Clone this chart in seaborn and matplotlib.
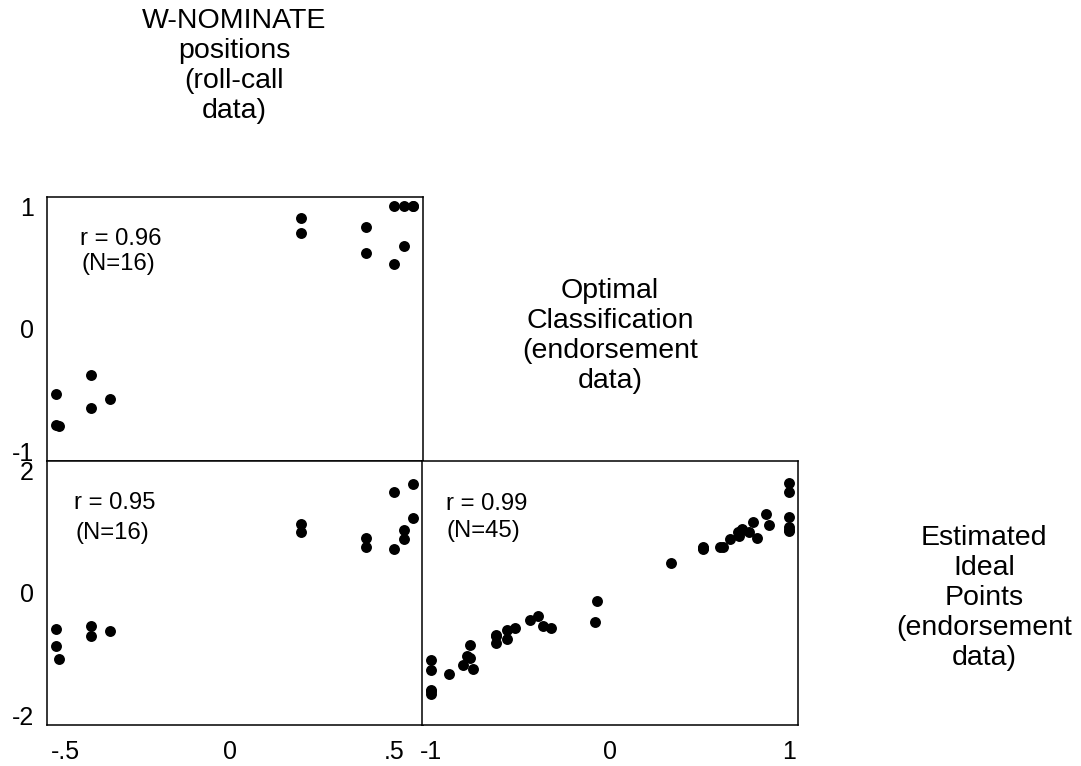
import matplotlib
matplotlib.use("Agg")
import matplotlib.pyplot as plt
import seaborn as sns
import pandas as pd

# Legislators with roll-call positions (N=16)
wnom = [-0.530, -0.530, -0.521, -0.422, -0.422, -0.367, 0.217, 0.217,
        0.414, 0.414, 0.501, 0.501, 0.530, 0.530, 0.559, 0.559]
oc_rc = [-0.529, -0.782, -0.787, -0.375, -0.641, -0.573, 0.901, 0.779,
         0.828, 0.621, 1.000, 0.527, 1.000, 0.676, 1.000, 1.000]
est_rc = [-0.591, -0.863, -1.069, -0.537, -0.700, -0.613, 1.114, 0.989,
          0.886, 0.739, 1.645, 0.717, 1.021, 0.869, 1.770, 1.222]

# All legislators with endorsement data (N=45)
oc_all = [-1.000, -1.000, -1.000, -1.000, -1.000, -0.898,
          -0.823, -0.801, -0.780, -0.782, -0.764,
          -0.637, -0.637, -0.637, -0.574, -0.574, -0.531,
          -0.447, -0.400, -0.372, -0.331,
          -0.074, -0.082, 0.341,
          0.521, 0.521, 0.521, 0.615, 0.633,
          0.670, 0.717, 0.736, 0.736, 0.722, 0.777, 0.800, 0.823, 0.872, 0.889,
          1.000, 1.000, 1.000, 1.000, 1.000, 1.000]
est_all = [-1.096, -1.259, -1.574, -1.639, -1.605, -1.324,
           -1.178, -1.031, -1.055, -0.852, -1.232,
           -0.689, -0.814, -0.700, -0.607, -0.743, -0.580,
           -0.445, -0.380, -0.542, -0.564,
           -0.130, -0.482, 0.489,
           0.739, 0.717, 0.728, 0.745, 0.750,
           0.869, 0.994, 1.040, 1.030, 0.918, 0.994, 1.162, 0.886, 1.277, 1.108,
           1.785, 1.645, 1.238, 1.065, 1.021, 1.005]

labels = ["W-NOMINATE\npositions\n(roll-call\ndata)",
          "Optimal\nClassification\n(endorsement\ndata)",
          "Estimated\nIdeal\nPoints\n(endorsement\ndata)"]
stats = [("r = 0.96", "(N=16)"), ("r = 0.95", "(N=16)"), ("r = 0.99", "(N=45)")]

sns.set_style("white")
plt.rcParams["font.family"] = ["Liberation Sans", "DejaVu Sans"]
plt.rcParams["text.color"] = "black"
plt.rcParams["xtick.color"] = "black"
plt.rcParams["ytick.color"] = "black"

W, H = 1081, 766
fig = plt.figure(figsize=(W / 100, H / 100), dpi=100)


def box(l, t, r, b):
    return [l / W, 1 - b / H, (r - l) / W, (b - t) / H]


ax_top = fig.add_axes(box(46.5, 196.7, 422.7, 460.7))
ax_bl = fig.add_axes(box(46.5, 461.0, 422.7, 725.3))
ax_br = fig.add_axes(box(422.0, 461.0, 797.7, 725.3))

rc = pd.DataFrame({"wnom": wnom, "oc": oc_rc, "est": est_rc})
en = pd.DataFrame({"oc": oc_all, "est": est_all})

dot = dict(color="black", s=62, linewidth=0, legend=False)
sns.scatterplot(data=rc, x="wnom", y="oc", ax=ax_top, **dot)
sns.scatterplot(data=rc, x="wnom", y="est", ax=ax_bl, **dot)
sns.scatterplot(data=en, x="oc", y="est", ax=ax_br, **dot)

wx = (-0.559, 0.5875)
ax_top.set_xlim(*wx)
ax_top.set_ylim(-1.073, 1.076)
ax_bl.set_xlim(*wx)
ax_bl.set_ylim(-2.156, 2.147)
ax_br.set_xlim(-1.05, 1.049)
ax_br.set_ylim(-2.156, 2.147)

for ax in (ax_top, ax_bl, ax_br):
    ax.set_xlabel("")
    ax.set_ylabel("")
    for s in ax.spines.values():
        s.set_color("black")
        s.set_linewidth(1.1)
    ax.tick_params(direction="out", length=7.5, width=1.1, color="black",
                   labelsize=18, labelcolor="black")
    ax.tick_params(axis="y", pad=1.5)
    ax.tick_params(axis="x", pad=3)

ax_top.set_yticks([-1, 0, 1], ["-1", "0", "1"])
ax_top.set_xticks([])
ax_bl.set_yticks([-2, 0, 2], ["-2", "0", "2"])
ax_bl.set_xticks([-0.5, 0, 0.5], ["-.5", "0", ".5"])
ax_br.set_yticks([])
ax_br.set_xticks([-1, 0, 1], ["-1", "0", "1"])

# correlation notes inside each panel
note_pos = [(ax_top, (0.089, 0.840), (0.094, 0.745)),
            (ax_bl, (0.073, 0.841), (0.076, 0.727)),
            (ax_br, (0.064, 0.837), (0.064, 0.735))]
for (ax, p1, p2), (r_txt, n_txt) in zip(note_pos, stats):
    ax.text(*p1, r_txt, transform=ax.transAxes, ha="left", va="center", fontsize=17.2)
    ax.text(*p2, n_txt, transform=ax.transAxes, ha="left", va="center", fontsize=17.2)

# variable names on the diagonal
for (px, py), lab in zip([(234, 66.5), (610, 336), (984, 598)], labels):
    fig.text(px / W, 1 - py / H, lab, ha="center", va="center",
             multialignment="center", fontsize=20.5, linespacing=1.2)

fig.savefig("out.png", dpi=100)
